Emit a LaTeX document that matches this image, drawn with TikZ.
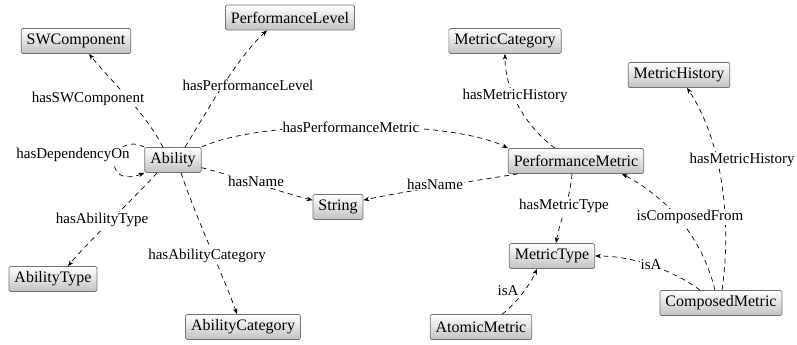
\documentclass[tikz,border=0pt]{standalone}
\usepackage{fontspec}
\setmainfont{Liberation Serif}
\usetikzlibrary{arrows.meta}
\begin{document}
\begin{tikzpicture}[x=1pt,y=-1pt,
  cls/.style={draw=black!55, line width=0.7pt, rounded corners=1.5pt,
    top color=white, bottom color=black!24, minimum height=25pt,
    inner xsep=5.5pt, inner ysep=2pt, font=\fontsize{16}{19}\selectfont},
  edge/.style={line width=0.7pt, dash pattern=on 5pt off 4pt,
    -{Stealth[length=6pt,width=4.5pt]}},
  lbl/.style={fill=white, inner sep=1pt, font=\fontsize{15}{18}\selectfont}]
\useasboundingbox (0,0) rectangle (797,345);
% classes
\node[cls] (sw) at (76,41) {SWComponent};
\node[cls] (pl) at (290,17.5) {PerformanceLevel};
\node[cls] (ab) at (173,160) {Ability};
\node[cls] (mc) at (505,41) {MetricCategory};
\node[cls] (mh) at (679,75) {MetricHistory};
\node[cls] (pm) at (576,161) {PerformanceMetric};
\node[cls] (st) at (338,207) {String};
\node[cls] (at) at (53,279) {AbilityType};
\node[cls] (ac) at (243,327) {AbilityCategory};
\node[cls] (mt) at (552,256) {MetricType};
\node[cls] (am) at (481,327) {AtomicMetric};
\node[cls] (cm) at (721,303) {ComposedMetric};
% connectors
\draw[edge] ([xshift=-10pt]ab.north) .. controls (145,112) and (110,80) .. ([xshift=13pt]sw.south);
\draw[edge] ([xshift=12pt]ab.north) .. controls (205,115) and (235,60) .. ([xshift=-23pt]pl.south);
\draw[edge] (ab.north east) .. controls (260,119) and (450,119) .. (pm.north west);
\draw[edge] (ab.north west) .. controls (110,130) and (100,190) .. (ab.south west);
\draw[edge] (ab.-15) .. controls (235,176) and (280,192) .. (st.165);
\draw[edge] ([xshift=10pt]pm.south west) .. controls (480,180) and (400,192) .. (st.15);
\draw[edge] ([xshift=-16pt]ab.south) .. controls (145,187) and (85,245) .. ([xshift=15pt]at.north);
\draw[edge] ([xshift=8pt]ab.south) .. controls (195,215) and (225,280) .. ([xshift=-6pt]ac.north);
\draw[edge] ([xshift=-21pt]pm.north) .. controls (530,130) and (505,95) .. (mc.south);
\draw[edge] ([xshift=1pt]cm.north) .. controls (732,220) and (722,140) .. ([xshift=8pt]mh.south);
\draw[edge] ([xshift=-4pt]pm.south) .. controls (570,200) and (560,220) .. ([xshift=4pt]mt.north);
\draw[edge] ([xshift=-6pt]cm.north) .. controls (705,250) and (680,205) .. ([xshift=-22pt]pm.south east);
\draw[edge] ([xshift=-21pt]cm.north) .. controls (680,275) and (640,256) .. (mt.east);
\draw[edge] ([xshift=21pt]am.north) .. controls (515,305) and (530,285) .. ([xshift=-15pt]mt.south);
% labels
\node[lbl] (l1) at (88,99) {hasSWComponent};
\node[lbl] (l2) at (248,85) {hasPerformanceLevel};
\node[lbl] (l3) at (351,127) {hasPerformanceMetric};
\node[lbl] (l4) at (73,155) {hasDependencyOn};
\node[lbl] (l5) at (256,181) {hasName};
\node[lbl] (l6) at (435,184) {hasName};
\node[lbl] (l7) at (102,220) {hasAbilityType};
\node[lbl] (l8) at (207,256) {hasAbilityCategory};
\node[lbl] (l9) at (515,96) {hasMetricHistory};
\node[lbl] (l10) at (742,160) {hasMetricHistory};
\node[lbl] (l11) at (564,206) {hasMetricType};
\node[lbl] (l12) at (690,217) {isComposedFrom};
\node[lbl] (l13) at (651,265) {isA};
\node[lbl] (l14) at (508,291) {isA};
\end{tikzpicture}
\end{document}
